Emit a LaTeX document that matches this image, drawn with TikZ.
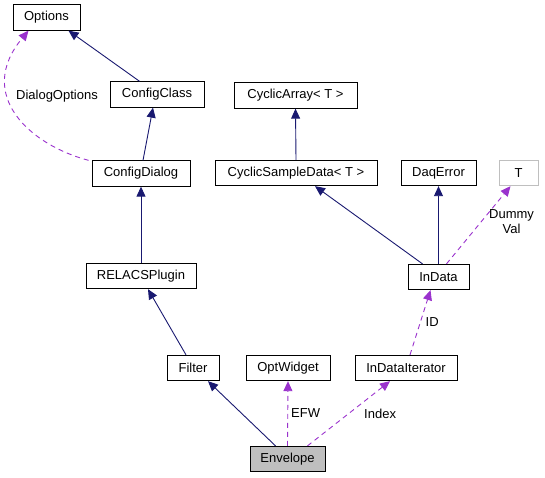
\documentclass[tikz,border=0pt]{standalone}
\usepackage{fontspec}
\setmainfont{Liberation Sans}
\usetikzlibrary{arrows.meta}
\definecolor{inh}{HTML}{191970}
\definecolor{use}{HTML}{9A32CD}
\begin{document}
\begin{tikzpicture}[x=1pt,y=-1pt,
  cls/.style={draw=black,line width=0.8pt,fill=white,inner sep=0pt,font=\fontsize{13}{15}\selectfont,minimum height=25.5pt},
  inhe/.style={draw=inh,line width=0.9pt,-{Triangle[length=10pt,width=9pt]}},
  usee/.style={draw=use,line width=0.9pt,dash pattern=on 5pt off 4pt,-{Triangle[length=10pt,width=9pt]}},
  lbl/.style={font=\fontsize{13}{15}\selectfont,inner sep=1pt,align=center}]
\useasboundingbox (0,0) rectangle (545,477);
\node[cls,minimum width=67pt] (opt) at (46.5,17.5) {Options};
\node[cls,minimum width=94pt] (cc) at (157,94.5) {ConfigClass};
\node[cls,minimum width=98pt] (cd) at (141,173.5) {ConfigDialog};
\node[cls,minimum width=110pt] (rp) at (141,276) {RELACSPlugin};
\node[cls,minimum width=52pt] (fi) at (193,368) {Filter};
\node[cls,minimum width=84pt] (ow) at (288,368) {OptWidget};
\node[cls,minimum width=102pt] (idi) at (406,368) {InDataIterator};
\node[cls,minimum width=75pt,fill=black!25] (env) at (287.5,459) {Envelope};
\node[cls,minimum width=123pt] (ca) at (295.5,95.5) {CyclicArray< T >};
\node[cls,minimum width=162pt] (csd) at (296,173) {CyclicSampleData< T >};
\node[cls,minimum width=75pt] (de) at (438.5,173) {DaqError};
\node[cls,minimum width=39pt,draw=black!25] (t) at (518.5,173) {T};
\node[cls,minimum width=61pt] (id) at (438.5,277) {InData};
% inheritance
\draw[inhe] (cc.north west) ++(30,0) coordinate (a1) -- ([xshift=22pt]opt.south);
\draw[inhe] ([xshift=2pt]cd.north) -- ([xshift=-4pt]cc.south);
\draw[inhe] (rp.north) -- (cd.south);
\draw[inhe] ([xshift=-7pt]fi.north) -- ([xshift=7pt]rp.south);
\draw[inhe] ([xshift=-12pt]env.north) -- ([xshift=15pt]fi.south);
\draw[inhe] (csd.north) -- (ca.south);
\draw[inhe] ([xshift=-16pt]id.north) -- ([xshift=19pt]csd.south);
\draw[inhe] (id.north) -- (de.south);
% usage
\draw[usee] ([xshift=8pt]id.north) -- node[lbl,pos=0.55,right=6pt] {Dummy\\Val} ([xshift=-8pt]t.south);
\draw[usee] ([xshift=4pt]idi.north) -- node[lbl,pos=0.5,right=4pt] {ID} ([xshift=-8pt]id.south);
\draw[usee] (env.north) -- node[lbl,pos=0.5,right=2pt] {EFW} (ow.south);
\draw[usee] ([xshift=20pt]env.north) -- node[lbl,pos=0.5,right=14pt] {Index} ([xshift=-16pt]idi.south);
\draw[usee] ([xshift=-3pt]cd.north west) .. controls (30,145) and (-25,95) .. node[lbl,pos=0.65,anchor=west,xshift=7pt,yshift=-4pt] {DialogOptions} ([xshift=-18pt]opt.south);
\end{tikzpicture}
\end{document}
